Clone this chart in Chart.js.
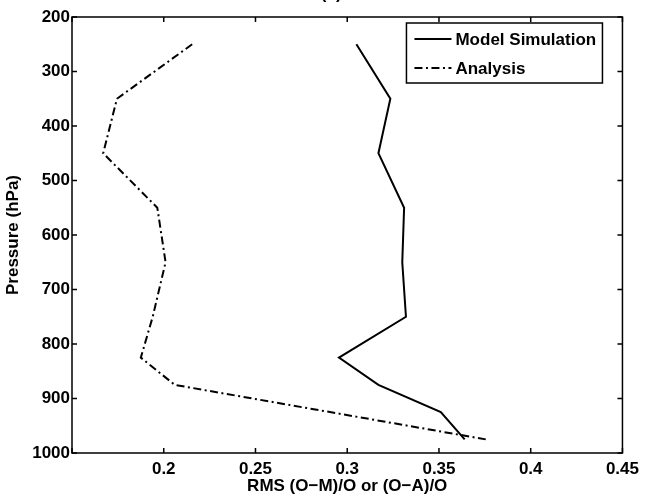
<!DOCTYPE html>
<html>
<head>
<meta charset="utf-8">
<script src="https://cdn.jsdelivr.net/npm/chart.js@4.4.0/dist/chart.umd.min.js"></script>
<style>
  html, body { margin: 0; padding: 0; background: #fff; }
  #contenedor { width: 645px; height: 497px; }
</style>
</head>
<body>
<div id="contenedor"><canvas id="g-perfil"></canvas></div>
<script>
// =====================================================
// PERFIL VERTICAL DEL ERROR RMS
// =====================================================

const niveles = [250, 350, 450, 550, 650, 750, 825, 875, 925, 975];
const rmsModelo = [0.305, 0.3235, 0.317, 0.331, 0.330, 0.332, 0.2955, 0.317, 0.351, 0.364];
const rmsAnalisis = [0.2155, 0.1745, 0.167, 0.1965, 0.201, 0.194, 0.1875, 0.206, null, 0.3755];
const ticksX = [0.15, 0.2, 0.25, 0.3, 0.35, 0.4, 0.45];
const ticksY = [200, 300, 400, 500, 600, 700, 800, 900, 1000];
const series = ["Model Simulation", "Analysis"];

const FUENTE = '"Liberation Sans", Arial, Helvetica, sans-serif';
const TAM = 17;

// pares {x, y}; los niveles sin dato se saltan
function puntos(valores) {
  return niveles
    .map((p, i) => ({ x: valores[i], y: p }))
    .filter(d => d.x !== null);
}

// marco cerrado con marcas hacia dentro en los cuatro lados
const marco = {
  id: "marco",
  afterDatasetsDraw(chart) {
    const { ctx, chartArea: a, scales: { x, y } } = chart;
    const largo = 5;
    ctx.save();
    ctx.strokeStyle = "#000";
    ctx.lineWidth = 1.5;
    ctx.strokeRect(a.left, a.top, a.right - a.left, a.bottom - a.top);
    ctx.beginPath();
    x.ticks.forEach(t => {
      const px = x.getPixelForValue(t.value);
      ctx.moveTo(px, a.bottom); ctx.lineTo(px, a.bottom - largo);
      ctx.moveTo(px, a.top); ctx.lineTo(px, a.top + largo);
    });
    y.ticks.forEach(t => {
      const py = y.getPixelForValue(t.value);
      ctx.moveTo(a.left, py); ctx.lineTo(a.left + largo, py);
      ctx.moveTo(a.right, py); ctx.lineTo(a.right - largo, py);
    });
    ctx.stroke();

    // titulo del panel, recortado por el borde superior
    ctx.fillStyle = "#000";
    ctx.font = "bold " + TAM + "px " + FUENTE;
    ctx.textAlign = "center";
    ctx.textBaseline = "alphabetic";
    ctx.fillText("(a)", (a.left + a.right) / 2 - 16, -1);
    ctx.restore();
  }
};

// leyenda con recuadro en la esquina superior derecha
const leyenda = {
  id: "leyenda",
  afterDraw(chart) {
    const { ctx, chartArea: a } = chart;
    const ancho = 196, alto = 60;
    const x0 = a.right - 20 - ancho;
    const y0 = a.top + 6;
    ctx.save();
    ctx.fillStyle = "#fff";
    ctx.fillRect(x0, y0, ancho, alto);
    ctx.strokeStyle = "#000";
    ctx.lineWidth = 1.5;
    ctx.strokeRect(x0, y0, ancho, alto);

    chart.data.datasets.forEach((ds, i) => {
      const yc = y0 + 16 + i * 29;
      ctx.strokeStyle = ds.borderColor;
      ctx.lineWidth = ds.borderWidth;
      ctx.setLineDash(ds.borderDash || []);
      ctx.beginPath();
      ctx.moveTo(x0 + 8, yc);
      ctx.lineTo(x0 + 45, yc);
      ctx.stroke();
      ctx.setLineDash([]);
      ctx.fillStyle = "#000";
      ctx.font = "bold " + TAM + "px " + FUENTE;
      ctx.textAlign = "left";
      ctx.textBaseline = "middle";
      ctx.fillText(ds.label, x0 + 49, yc + 1);
    });
    ctx.restore();
  }
};

function cargarGrafico() {
  Chart.defaults.font.family = FUENTE;
  Chart.defaults.font.size = TAM;
  Chart.defaults.font.weight = "bold";
  Chart.defaults.color = "#000";

  new Chart(document.getElementById("g-perfil"), {
    type: "line",
    data: {
      datasets: [{
        label: series[0],
        data: puntos(rmsModelo),
        borderColor: "#000",
        borderWidth: 2,
        pointRadius: 0,
        tension: 0
      }, {
        label: series[1],
        data: puntos(rmsAnalisis),
        borderColor: "#000",
        borderWidth: 2,
        borderDash: [8, 3.5, 2, 3.5],
        pointRadius: 0,
        tension: 0,
        spanGaps: true
      }]
    },
    options: {
      responsive: true,
      maintainAspectRatio: false,
      animation: false,
      layout: { padding: { top: 17, right: 19, left: 0, bottom: 0 } },
      plugins: { legend: { display: false }, tooltip: { enabled: false } },
      scales: {
        x: {
          type: "linear",
          min: 0.15,
          max: 0.45,
          afterBuildTicks: s => { s.ticks = ticksX.map(v => ({ value: v })); },
          afterFit: s => { s.height = 44; },
          ticks: {
            padding: 6,
            maxRotation: 0,
            callback: v => (v === ticksX[0] ? "" : String(v))
          },
          grid: { display: false, drawTicks: false },
          border: { display: false },
          title: { display: true, text: "RMS (O\u2212M)/O or (O\u2212A)/O", padding: { top: 0, bottom: 0 } }
        },
        y: {
          type: "linear",
          reverse: true,
          min: 200,
          max: 1000,
          afterBuildTicks: s => { s.ticks = ticksY.map(v => ({ value: v })); },
          afterFit: s => { s.width = 72; },
          ticks: { padding: 2, callback: v => String(v) },
          grid: { display: false, drawTicks: false },
          border: { display: false },
          title: { display: true, text: "Pressure (hPa)", padding: { top: 3, bottom: 0 } }
        }
      }
    },
    plugins: [marco, leyenda]
  });
}

document.addEventListener("DOMContentLoaded", cargarGrafico);
</script>
</body>
</html>
